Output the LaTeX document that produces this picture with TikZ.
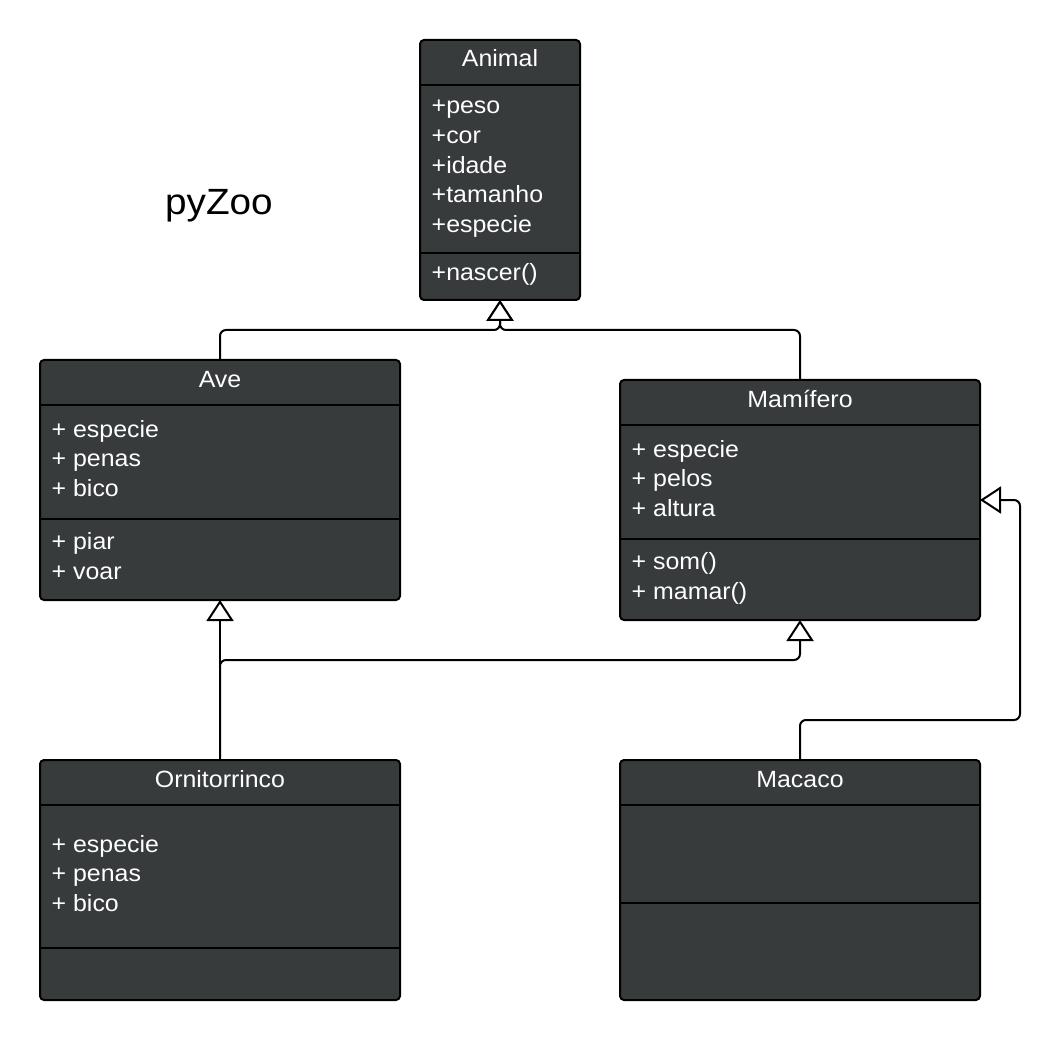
\documentclass[tikz,border=0pt]{standalone}
\usepackage{fontspec}
\setmainfont{Liberation Sans}[FakeStretch=1.06]
\usetikzlibrary{arrows.meta}
\definecolor{boxfill}{RGB}{55,59,60}
\begin{document}
\begin{tikzpicture}[x=1pt,y=-1pt,
  umlbox/.style={draw=black, line width=2pt, fill=boxfill, rounded corners=4pt, inner sep=0pt, outer sep=0pt, anchor=north west},
  sepline/.style={draw=black, line width=2pt},
  titletext/.style={text=white, font=\fontsize{23.5}{28}\selectfont, anchor=base, inner sep=0pt},
  itemtext/.style={text=white, font=\fontsize{23.5}{28}\selectfont, anchor=base west, inner sep=0pt},
  inherit/.style={draw=black, line width=2pt, rounded corners=6pt, -{Triangle[open, length=21pt, width=27pt, fill=white, line width=2pt]}}]
\useasboundingbox (0,0) rectangle (1060,1040);

% heading
\node[anchor=base, inner sep=0pt, font=\fontsize{36.5}{40}\selectfont] (heading) at (219,215) {pyZoo};

% Animal
\node[umlbox, minimum width=160pt, minimum height=260pt] (animal) at (420,40) {};
\draw[sepline] (420,85) -- (580,85);
\draw[sepline] (420,253) -- (580,253);
\node[titletext] (animal-t) at (500,67) {Animal};
\foreach \t [count=\i] in {+peso,+cor,+idade,+tamanho,+especie}
  \node[itemtext] (animal-a\i) at (431.5,{114+29.6*(\i-1)}) {\t};
\node[itemtext] (animal-m1) at (431.5,281) {+nascer()};

% Ave
\node[umlbox, minimum width=360pt, minimum height=240pt] (ave) at (40,360) {};
\draw[sepline] (40,405) -- (400,405);
\draw[sepline] (40,519) -- (400,519);
\node[titletext] (ave-t) at (220,387.5) {Ave};
\foreach \t [count=\i] in {+ especie,+ penas,+ bico}
  \node[itemtext] (ave-a\i) at (51.5,{437+29.6*(\i-1)}) {\t};
\foreach \t [count=\i] in {+ piar,+ voar}
  \node[itemtext] (ave-m\i) at (51.5,{549.5+29.6*(\i-1)}) {\t};

% Mamifero
\node[umlbox, minimum width=360pt, minimum height=240pt] (mam) at (620,380) {};
\draw[sepline] (620,425) -- (980,425);
\draw[sepline] (620,539) -- (980,539);
\node[titletext] (mam-t) at (800,407.5) {Mamífero};
\foreach \t [count=\i] in {+ especie,+ pelos,+ altura}
  \node[itemtext] (mam-a\i) at (631.5,{457+29.6*(\i-1)}) {\t};
\foreach \t [count=\i] in {+ som(),+ mamar()}
  \node[itemtext] (mam-m\i) at (631.5,{569.5+29.6*(\i-1)}) {\t};

% Ornitorrinco
\node[umlbox, minimum width=360pt, minimum height=240pt] (orn) at (40,760) {};
\draw[sepline] (40,805) -- (400,805);
\draw[sepline] (40,948) -- (400,948);
\node[titletext] (orn-t) at (220,787.5) {Ornitorrinco};
\foreach \t [count=\i] in {+ especie,+ penas,+ bico}
  \node[itemtext] (orn-a\i) at (51.5,{852+29.6*(\i-1)}) {\t};

% Macaco
\node[umlbox, minimum width=360pt, minimum height=240pt] (mac) at (620,760) {};
\draw[sepline] (620,805) -- (980,805);
\draw[sepline] (620,903) -- (980,903);
\node[titletext] (mac-t) at (800,787.5) {Macaco};

% connectors
\coordinate (j1) at (500,330);
\coordinate (j2) at (220,660);
\coordinate (j3) at (1020,720);
\draw[inherit] (ave.north) |- (j1) -- (animal.south);
\draw[inherit] (mam.north) |- (j1) -- (animal.south);
\draw[inherit] (orn.north) -- (ave.south);
\draw[inherit] (orn.north) -- (j2) -| (mam.south);
\draw[inherit] (mac.north) |- (j3) |- (mam.east);
\end{tikzpicture}
\end{document}
